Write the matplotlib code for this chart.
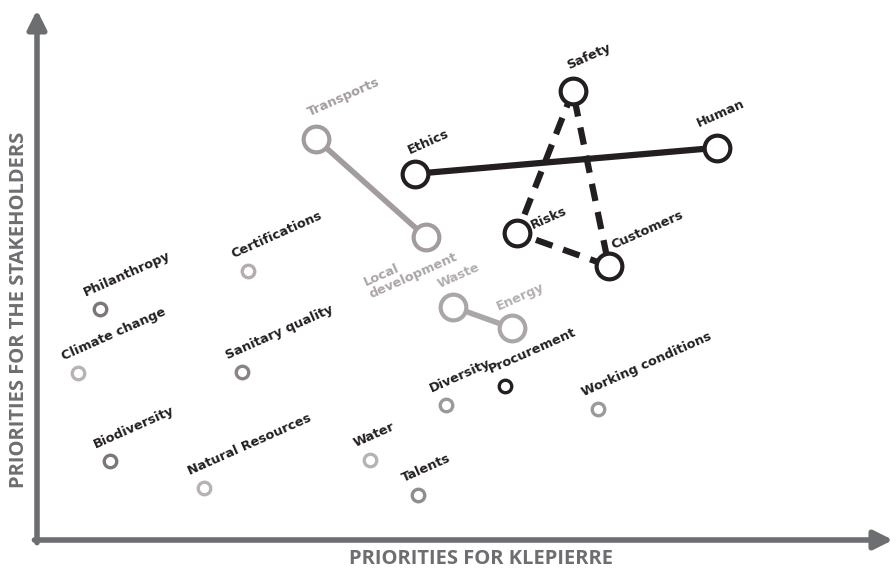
import matplotlib.pyplot as plt

plt.rcParams['font.family'] = ['DejaVu Sans']

# Priorities, 0-100 scale (x = Klepierre, y = stakeholders)
topics = ["Philanthropy", "Certifications", "Climate change", "Sanitary quality",
          "Biodiversity", "Natural Resources", "Water", "Talents", "Diversity",
          "Procurement", "Working conditions"]
topic_x = [7.4, 24.6, 4.8, 23.9, 8.5, 19.5, 38.9, 44.5, 47.8, 54.7, 65.5]
topic_y = [43.6, 50.8, 31.5, 31.7, 14.9, 9.8, 15.1, 8.5, 25.5, 29.1, 24.7]
topic_colors = ["#7d7677", "#b3adad", "#b8b3b3", "#8a8284", "#7d7677", "#b8b3b3",
                "#b8b3b3", "#8e8e90", "#9a9a9c", "#231f20", "#9a9a9c"]

# linked groups
transport_names = ["Transports", "Local\ndevelopment"]
transport_x = [32.6, 45.4]
transport_y = [75.7, 57.2]

waste_names = ["Waste", "Energy"]
waste_x = [48.6, 55.5]
waste_y = [44.0, 40.0]

ethics_names = ["Ethics", "Human"]
ethics_x = [44.2, 79.4]
ethics_y = [69.1, 74.0]

safety_names = ["Safety", "Risks", "Customers"]
safety_x = [62.6, 56.1, 66.8]
safety_y = [84.7, 57.9, 51.7]

PX = 1 / 1.389  # pixels -> points
black = "#231f20"
axis_gray = "#6d6e71"

fig = plt.figure(figsize=(8.96, 5.70), dpi=100)
ax = fig.add_axes([37 / 896, 30 / 570, 856 / 896, 530 / 570])
ax.set_xlim(0, 100)
ax.set_ylim(0, 100)
ax.axis("off")

# axes arrows
arrow = dict(arrowstyle="-|>", lw=4, color=axis_gray, mutation_scale=28,
             shrinkA=0, shrinkB=0)
ax.annotate("", xy=(100, 0), xytext=(-0.3, 0), arrowprops=arrow, annotation_clip=False)
ax.annotate("", xy=(0, 100), xytext=(0, -0.5), arrowprops=arrow, annotation_clip=False)

fig.text(481 / 896, 1 - 559 / 570, "PRIORITIES FOR KLEPIERRE", ha="center", va="center",
         fontsize=14.5, fontweight="bold", color=axis_gray, family="Open Sans")
fig.text(19 / 896, 1 - 310 / 570, "PRIORITIES FOR THE STAKEHOLDERS", ha="center",
         va="center", rotation=90, fontsize=14.5, fontweight="bold", color=axis_gray,
         family="Open Sans")


def label(name, x, y, dx, dy, color):
    ax.annotate(name, (x, y), xytext=(dx * PX, dy * PX), textcoords="offset points",
                ha="left", va="bottom", rotation=24, rotation_mode="anchor",
                fontsize=9.3, fontweight="bold", color=color, linespacing=1.0,
                zorder=5)


# small topics
for name, x, y, c in zip(topics, topic_x, topic_y, topic_colors):
    ax.plot(x, y, "o", ms=9, mfc="white", mec=c, mew=2.4, zorder=4)
    label(name, x, y, -13, 10, black)

big = dict(ms=18.5, mfc="white", mew=3, zorder=4)

# transports - local development
c = "#a39c9c"
ax.plot(transport_x, transport_y, color=c, lw=4, zorder=2)
ax.plot(transport_x, transport_y, "o", mec=c, **big)
label(transport_names[0], transport_x[0], transport_y[0], -5, 20, c)
label(transport_names[1], transport_x[1], transport_y[1], -53, -64, "#aba5a5")

# waste - energy
c = "#aca7a7"
ax.plot(waste_x, waste_y, color=c, lw=4, zorder=2)
ax.plot(waste_x, waste_y, "o", mec=c, **big)
label(waste_names[0], waste_x[0], waste_y[0], -12, 16, "#b3aeae")
label(waste_names[1], waste_x[1], waste_y[1], -12, 15, "#b3aeae")

# ethics - human
ax.plot(ethics_x, ethics_y, color=black, lw=4.5, zorder=2, solid_capstyle="butt")
ax.plot(ethics_x, ethics_y, "o", mec=black, **big)
label(ethics_names[0], ethics_x[0], ethics_y[0], -4, 17, black)
label(ethics_names[1], ethics_x[1], ethics_y[1], -17, 18, black)

# safety - risks - customers triangle
ax.plot(safety_x + safety_x[:1], safety_y + safety_y[:1], color=black, lw=4.5,
        ls=(0, (2.8, 1.8)), zorder=2, dash_capstyle="butt")
ax.plot(safety_x, safety_y, "o", mec=black, **big)
label(safety_names[0], safety_x[0], safety_y[0], -3, 19, black)
label(safety_names[1], safety_x[1], safety_y[1], 17, 1, black)
label(safety_names[2], safety_x[2], safety_y[2], 6, 14, black)

fig.savefig("out.png", dpi=100)
